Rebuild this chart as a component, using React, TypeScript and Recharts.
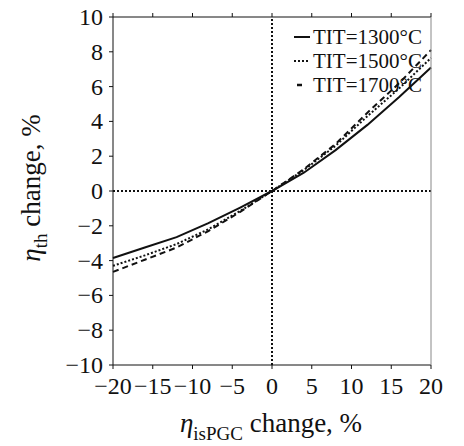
import React from 'react';
import { LineChart, Line, XAxis, YAxis, ReferenceLine, Label } from 'recharts';

const xChange = [-20, -16, -12, -8, -4, 0, 4, 8, 12, 16, 20];
const tit1300 = [-3.85, -3.25, -2.65, -1.85, -0.95, 0, 1.05, 2.35, 3.8, 5.4, 7.1];
const tit1500 = [-4.3, -3.7, -3.05, -2.2, -1.15, 0, 1.2, 2.6, 4.3, 5.9, 7.65];
const tit1700 = [-4.65, -3.95, -3.25, -2.3, -1.2, 0, 1.25, 2.7, 4.5, 6.2, 8.1];
const seriesNames = ['TIT=1300°C', 'TIT=1500°C', 'TIT=1700°C'];
const xTicks = [-20, -15, -10, -5, 0, 5, 10, 15, 20];
const yTicks = [-10, -8, -6, -4, -2, 0, 2, 4, 6, 8, 10];

const data = xChange.map((x, i) => ({
  x,
  s1300: tit1300[i],
  s1500: tit1500[i],
  s1700: tit1700[i],
}));

const FONT = '"Liberation Serif", "Times New Roman", serif';
const INK = '#111';
const fmt = (v: number) => String(v).replace('-', '\u2212');

const YLabel = () => (
  <text
    transform="translate(40,188) rotate(-90)"
    textAnchor="middle"
    fontFamily={FONT}
    fontSize={27}
    fill={INK}
  >
    <tspan fontStyle="italic">η</tspan>
    <tspan fontSize={19} dy={7}>th</tspan>
    <tspan dy={-7}> change, %</tspan>
  </text>
);

const XLabel = () => (
  <text
    x={271}
    y={432}
    textAnchor="middle"
    fontFamily={FONT}
    fontSize={27}
    fill={INK}
  >
    <tspan fontStyle="italic">η</tspan>
    <tspan fontSize={19} dy={8}>isPGC</tspan>
    <tspan dy={-8}> change, %</tspan>
  </text>
);

const XTick = (props: any) => {
  const { x, y, payload } = props;
  return (
    <text x={x} y={y} dy={17} textAnchor="middle" fontFamily={FONT} fontSize={24} fill={INK}>
      {fmt(payload.value)}
    </text>
  );
};

const YTick = (props: any) => {
  const { x, y, payload } = props;
  return (
    <text x={x} y={y} dy={8} textAnchor="end" fontFamily={FONT} fontSize={24} fill={INK}>
      {fmt(payload.value)}
    </text>
  );
};

const dashes = [undefined, '2 2', undefined];

const LegendBox = () => (
  <div
    style={{
      position: 'absolute',
      left: 294,
      top: 25,
      width: 150,
      fontFamily: FONT,
      fontSize: 21,
      color: INK,
      lineHeight: '24px',
    }}
  >
    {seriesNames.map((name, i) => (
      <div key={name} style={{ display: 'flex', alignItems: 'center', height: 24 }}>
        <svg width={19} height={24} style={{ display: 'block' }}>
          {i === 2 ? (
            <line x1={3} x2={8} y1={12} y2={12} stroke={INK} strokeWidth={2.5} />
          ) : (
            <line x1={0} x2={16} y1={12} y2={12} stroke={INK} strokeWidth={2} strokeDasharray={dashes[i]} />
          )}
        </svg>
        <span style={{ whiteSpace: 'nowrap' }}>{name}</span>
      </div>
    ))}
  </div>
);

export default function App() {
  return (
    <div style={{ position: 'absolute', left: 0, top: 0, width: 464, height: 446, background: '#fff', fontFamily: FONT }}>
      <LineChart
        width={464}
        height={446}
        data={data}
        margin={{ top: 16, right: 32, bottom: 0, left: 0 }}
        style={{ fontFamily: FONT }}
      >
        <XAxis
          xAxisId="bottom"
          dataKey="x"
          type="number"
          domain={[-20, 20]}
          ticks={xTicks}
          height={81}
          tickSize={4}
          tickMargin={8}
          stroke={INK}
          tick={XTick}
          interval={0}
        >
          <Label content={XLabel} />
        </XAxis>
        <XAxis
          xAxisId="top"
          orientation="top"
          dataKey="x"
          type="number"
          domain={[-20, 20]}
          ticks={xTicks}
          height={1}
          tickSize={4}
          stroke={INK}
          tick={() => <g />}
          interval={0}
        />
        <YAxis
          yAxisId="left"
          type="number"
          domain={[-10, 10]}
          ticks={yTicks}
          width={113}
          tickSize={4}
          tickMargin={6}
          stroke={INK}
          tick={YTick}
          interval={0}
        >
          <Label content={YLabel} />
        </YAxis>
        <YAxis
          yAxisId="right"
          orientation="right"
          type="number"
          domain={[-10, 10]}
          ticks={yTicks}
          width={1}
          tickSize={4}
          stroke="#888"
          tick={() => <g />}
          interval={0}
        />
        <ReferenceLine xAxisId="bottom" yAxisId="left" x={0} stroke={INK} strokeWidth={2} strokeDasharray="2 2" />
        <ReferenceLine xAxisId="bottom" yAxisId="left" y={0} stroke={INK} strokeWidth={2} strokeDasharray="2 2" />
        <Line xAxisId="bottom" yAxisId="left" type="linear" dataKey="s1300" name={seriesNames[0]} stroke={INK} strokeWidth={2} dot={false} isAnimationActive={false} />
        <Line xAxisId="bottom" yAxisId="left" type="linear" dataKey="s1500" name={seriesNames[1]} stroke={INK} strokeWidth={2} strokeDasharray="2 2" dot={false} isAnimationActive={false} />
        <Line xAxisId="bottom" yAxisId="left" type="linear" dataKey="s1700" name={seriesNames[2]} stroke={INK} strokeWidth={2} strokeDasharray="6 4" dot={false} isAnimationActive={false} />
      </LineChart>
      <LegendBox />
    </div>
  );
}
